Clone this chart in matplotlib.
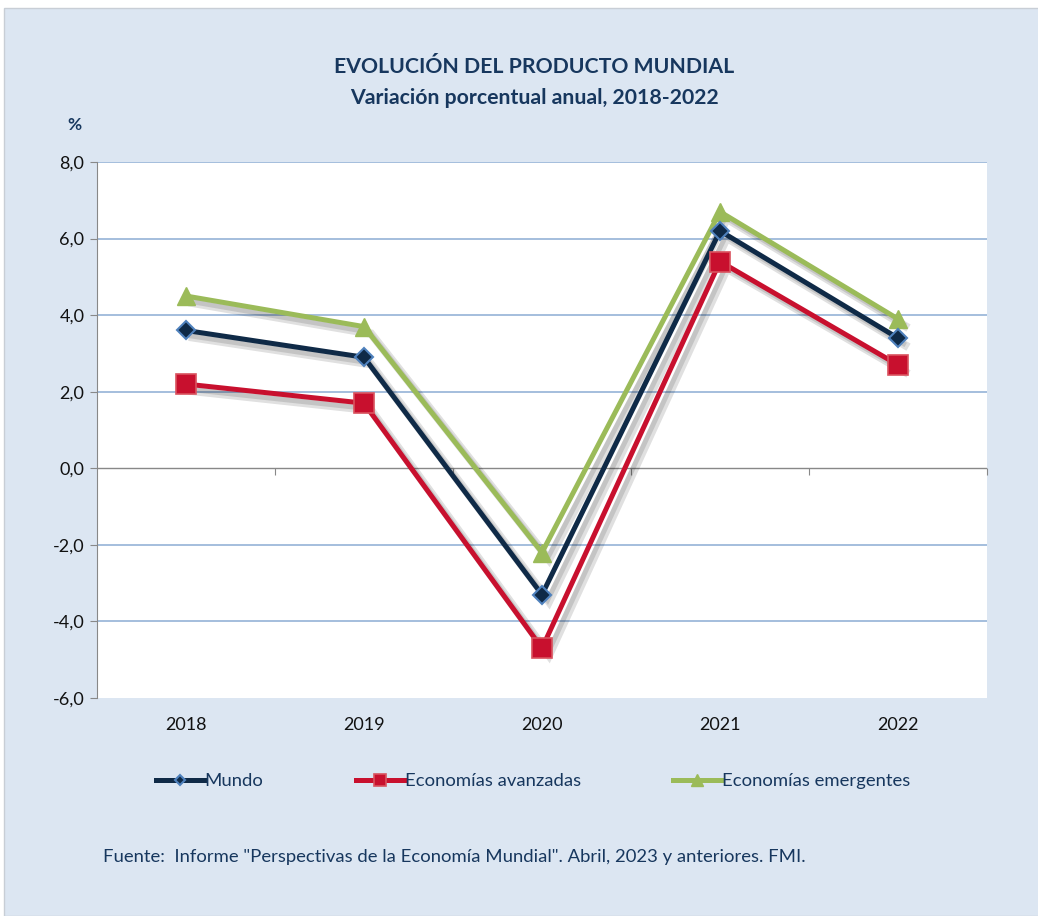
import matplotlib.pyplot as plt
import matplotlib.patheffects as pe
from matplotlib.patches import Rectangle
from matplotlib.lines import Line2D
from matplotlib.ticker import FuncFormatter, FixedLocator

plt.rcParams['font.family'] = ['Lato', 'DejaVu Sans']

years = ["2018", "2019", "2020", "2021", "2022"]
mundo = [3.6, 2.9, -3.3, 6.2, 3.4]
avanzadas = [2.2, 1.7, -4.7, 5.4, 2.7]
emergentes = [4.5, 3.7, -2.2, 6.7, 3.9]
yticks = [-6, -4, -2, 0, 2, 4, 6, 8]

navy = "#17375E"
bg = "#DCE6F2"

fig = plt.figure(figsize=(10.38, 9.16), dpi=100, facecolor="white")
fig.patches.append(Rectangle((4 / 1038, 0), 1, 1 - 8 / 916, transform=fig.transFigure,
                             facecolor=bg, edgecolor="#C8CED6", linewidth=1, zorder=-10))

ax = fig.add_axes([97 / 1038, 1 - 698 / 916, 890 / 1038, 536 / 916])
ax.set_facecolor("white")

x = list(range(len(years)))
shadow = [pe.SimpleLineShadow(offset=(5, -5), shadow_color="black", alpha=0.12, linewidth=6),
          pe.SimpleLineShadow(offset=(4, -4), shadow_color="black", alpha=0.12), pe.Normal()]

series = [
    (emergentes, "#9BBB59", "^", 13, "#9BBB59", "#9BBB59", 1.0, "Economías emergentes", 3),
    (mundo, "#0F2A47", "D", 9, "#0F2A47", "#4F81BD", 1.5, "Mundo", 4),
    (avanzadas, "#C8102E", "s", 14, "#C8102E", "#D9535F", 1.2, "Economías avanzadas", 5),
]
handles = {}
for vals, col, mk, ms, mfc, mec, mew, lab, z in series:
    ax.plot(x, vals, color=col, lw=3.6, path_effects=shadow, zorder=z,
            solid_joinstyle="miter")
    ax.plot(x, vals, ls="none", marker=mk, ms=ms, mfc=mfc, mec=mec, mew=mew, zorder=z + 0.5)
    handles[lab] = Line2D([], [], color=col, lw=3.6, marker=mk, ms=ms * 0.62, mfc=mfc,
                          mec=mec, mew=mew)

ax.set_xlim(-0.5, 4.5)
ax.set_ylim(-6, 8)
ax.set_yticks(yticks)
ax.yaxis.set_major_formatter(FuncFormatter(lambda v, p: f"{v:.1f}".replace(".", ",")))
ax.set_xticks(x)
ax.set_xticklabels(years)
ax.tick_params(axis="x", length=0, pad=14, labelsize=13, labelcolor="#111111")
ax.tick_params(axis="y", length=5, color="#888888", direction="out", labelsize=13,
               labelcolor="#111111", pad=4)

for s in ["top", "right", "bottom"]:
    ax.spines[s].set_visible(False)
ax.spines["left"].set_color("#888888")

for v in yticks:
    if v != 0 and v != -6:
        ax.axhline(v, color="#95B3D7", lw=1.2, zorder=1)
ax.axhline(0, color="#888888", lw=1.0, zorder=2)

sec = ax.secondary_xaxis(6 / 14)
sec.xaxis.set_major_locator(FixedLocator([0.5, 1.5, 2.5, 3.5, 4.5]))
sec.tick_params(axis="x", length=5, direction="out", color="#888888", labelbottom=False,
                labeltop=False, top=False, bottom=True)
sec.spines["bottom"].set_visible(False)
sec.spines["top"].set_visible(False)

fig.text(534 / 1038, 1 - 67 / 916, "EVOLUCIÓN DEL PRODUCTO MUNDIAL", ha="center", va="center",
         fontsize=15.3, fontweight="bold", color=navy)
fig.text(534 / 1038, 1 - 98 / 916, "Variación porcentual anual, 2018-2022", ha="center",
         va="center", fontsize=15.3, fontweight="bold", color=navy)
fig.text(74 / 1038, 1 - 125 / 916, "%", ha="center", va="center", fontsize=12.5,
         fontweight="bold", color=navy)

order = ["Mundo", "Economías avanzadas", "Economías emergentes"]
leg = fig.legend([handles[k] for k in order], order, loc="center",
                 bbox_to_anchor=(533 / 1038, 1 - 781 / 916), ncol=3, frameon=False,
                 fontsize=13.3, handlelength=2.6, handletextpad=0.05, columnspacing=5.0)
for t in leg.get_texts():
    t.set_color(navy)

fig.text(103 / 1038, 1 - 857 / 916,
         'Fuente:  Informe "Perspectivas de la Economía Mundial". Abril, 2023 y anteriores. FMI.',
         ha="left", va="center", fontsize=13.3, color=navy)

fig.savefig("out.png", dpi=100, facecolor=fig.get_facecolor())
